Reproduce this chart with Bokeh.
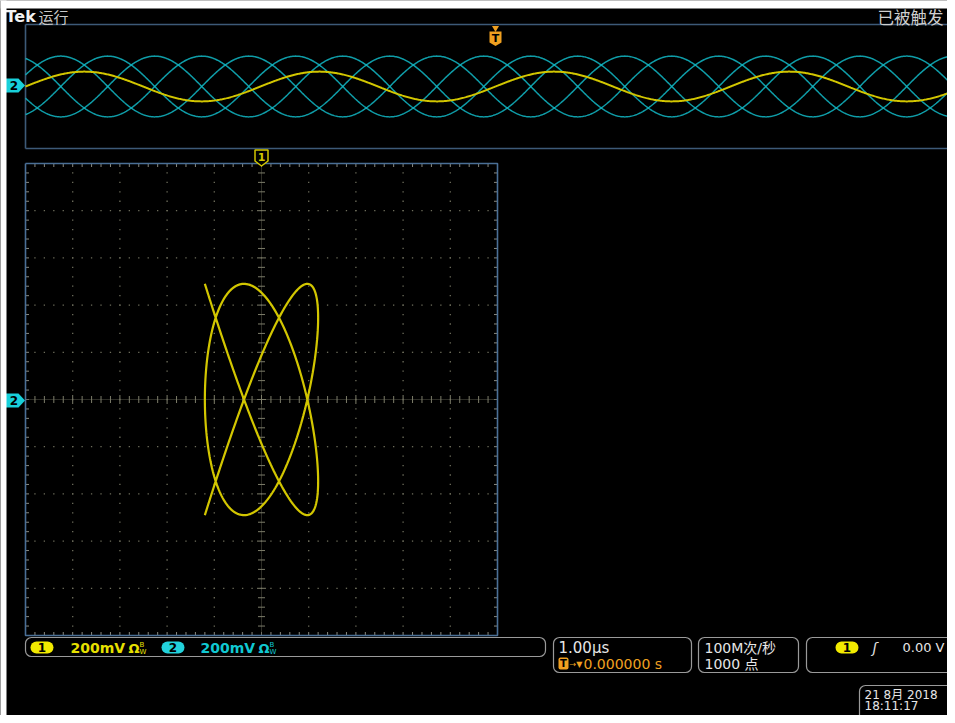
import numpy as np
from bokeh.plotting import figure
from bokeh.models import Range1d
from bokeh.core.properties import value
from bokeh.embed import file_html
from bokeh.resources import INLINE

record_us = [-5.0, 5.0]            # 1.00 us/div x 10 div, trigger in the centre
record_points = 1000               # "1000 点"
ch1_freq_mhz = 0.4                 # 4 cycles across the record
ch1_amp_v = 0.24
ch1_phase_deg = 0.0                # rising zero crossing at the trigger
ch2_freq_mhz = 0.5                 # 5 cycles across the record
ch2_amp_v = 0.49
ch2_phase_deg = 112.5              # cosine phase at the trigger
ch2_persist_deg = [0, 90, 180, 270]  # overlaid acquisitions in the YT window
volts_per_div = [0.2, 0.2]         # ch1, ch2
ch_labels = ["1", "2"]
ch_scale_text = ["200mV", "200mV"]
timebase_text = "1.00µs"
trig_pos_text = "0.000000 s"
rate_text = ["100M次/秒", "1000 点"]
trig_level_text = "0.00 V"
date_text = ["21 8月  2018", "18:11:17"]
header_text = ["Tek", "运行", "已被触发"]

# ---------------- screen layout (picture pixels) ----------------
PX0, PX1, PY0, PY1 = 0, 947, 0, 715
YT_L, YT_T, YT_B = 25, 24, 148
YT_TRIG_X = 495.0
YT_PX_PER_US = 94.0
YT_CY = 86.0
YT_PX_PER_DIV = 12.4
XY_L, XY_T, XY_DIV = 25.0, 163.0, 47.2
XY_R, XY_B = XY_L + 10 * XY_DIV, XY_T + 10 * XY_DIV
XY_CX, XY_CY = XY_L + 5 * XY_DIV, XY_T + 5 * XY_DIV

YELLOW = "#d2c600"
YELLOW_TXT = "#e6e000"
CYAN = "#12b9c6"
CYAN_TXT = "#10c8d2"
ORANGE = "#f0a020"
FRAME = "#4a6f96"
GRAT = "#6e6e5c"
WHITE = "#e6e6e6"
LATIN = "DejaVu Sans"
MIXED = "DejaVu Sans, Noto Sans CJK SC"
CJK = "Noto Sans CJK SC"

p = figure(width=PX1 - PX0, height=PY1 - PY0,
           x_range=Range1d(PX0, PX1), y_range=Range1d(-PY1, -PY0),
           output_backend="svg", toolbar_location=None,
           x_axis_location=None, y_axis_location=None,
           min_border=0, background_fill_color="#000000",
           border_fill_color="#000000", outline_line_color=None)
p.grid.visible = False

# scales of the two windows
yt_ppv = YT_PX_PER_DIV / volts_per_div[0]
xy_ppv_x = XY_DIV / volts_per_div[0]
xy_ppv_y = XY_DIV / volts_per_div[1]
p.extra_x_ranges = {
    "t": Range1d((PX0 - YT_TRIG_X) / YT_PX_PER_US, (PX1 - YT_TRIG_X) / YT_PX_PER_US),
    "vx": Range1d((PX0 - XY_CX) / xy_ppv_x, (PX1 - XY_CX) / xy_ppv_x),
}
p.extra_y_ranges = {
    "vt": Range1d((YT_CY - PY1) / yt_ppv, (YT_CY - PY0) / yt_ppv),
    "vy": Range1d((XY_CY - PY1) / xy_ppv_y, (XY_CY - PY0) / xy_ppv_y),
}


def Y(v):
    return -np.asarray(v, dtype=float)


def txt(x, y, s, color, size=14, font=LATIN, style="normal", align="left", baseline="middle"):
    p.text(x=[x], y=[-y], text=[s], text_color=color, text_font=value(font),
           text_font_size=f"{size}px", text_font_style=style,
           text_align=align, text_baseline=baseline)


# ---------------- signals ----------------
t = np.linspace(record_us[0], record_us[1], record_points)
ch1 = ch1_amp_v * np.sin(2 * np.pi * ch1_freq_mhz * t + np.radians(ch1_phase_deg))


def ch2(extra_deg=0.0):
    return ch2_amp_v * np.cos(2 * np.pi * ch2_freq_mhz * t + np.radians(ch2_phase_deg + extra_deg))


# ---------------- YT window ----------------
p.multi_line(xs=[[YT_L, PX1 + 20], [YT_L, PX1 + 20], [YT_L, YT_L]],
             ys=[list(Y([YT_T, YT_T])), list(Y([YT_B, YT_B])), list(Y([YT_T, YT_B]))],
             line_color="#3d5a78", line_width=1.6)
for d in ch2_persist_deg:
    p.line(t, ch2(d), x_range_name="t", y_range_name="vt",
           line_color=CYAN, line_width=1.5, line_alpha=0.85)
p.line(t, ch1, x_range_name="t", y_range_name="vt",
       line_color=YELLOW, line_width=2)

# ---------------- XY graticule ----------------
sub = XY_DIV / 5
dx, dy = [], []
for k in range(1, 10):
    if k == 5:
        continue
    for j in range(1, 50):
        dx.append(XY_L + k * XY_DIV); dy.append(XY_T + j * sub)
        dx.append(XY_L + j * sub); dy.append(XY_T + k * XY_DIV)
p.rect(x=dx, y=Y(dy), width=1.3, height=1.3, width_units="screen",
       height_units="screen", fill_color=GRAT, line_color=None)

# frame ticks
tx0, tx1, ty0, ty1 = [], [], [], []
for j in range(1, 50):
    a = XY_L + j * sub
    b = XY_T + j * sub
    tx0 += [a, a]; tx1 += [a, a]; ty0 += [XY_T, XY_B]; ty1 += [XY_T + 3.5, XY_B - 3.5]
    tx0 += [XY_L, XY_R]; tx1 += [XY_L + 3.5, XY_R - 3.5]; ty0 += [b, b]; ty1 += [b, b]
p.segment(x0=tx0, y0=Y(ty0), x1=tx1, y1=Y(ty1), line_color="#8a8a80", line_width=1)

# centre crosshair
p.segment(x0=[XY_L, XY_CX], y0=Y([XY_CY, XY_T]), x1=[XY_R, XY_CX], y1=Y([XY_CY, XY_B]),
          line_color="#5a5a4c", line_width=1, line_dash="1 1")
cx0, cx1, cy0, cy1 = [], [], [], []
for j in range(1, 50):
    h = 4.5 if j % 5 == 0 else 3.5
    a = XY_L + j * sub
    b = XY_T + j * sub
    cx0 += [a, XY_CX - h]; cx1 += [a, XY_CX + h]; cy0 += [XY_CY - h, b]; cy1 += [XY_CY + h, b]
p.segment(x0=cx0, y0=Y(cy0), x1=cx1, y1=Y(cy1), line_color="#7d7d6a", line_width=1)

# frame
p.multi_line(xs=[[XY_L, XY_R, XY_R, XY_L, XY_L]],
             ys=[list(Y([XY_T, XY_T, XY_B, XY_B, XY_T]))],
             line_color=FRAME, line_width=1.6)

# Lissajous (ch1 on X, ch2 on Y)
p.line(ch1, ch2(), x_range_name="vx", y_range_name="vy",
       line_color=YELLOW, line_width=2.2)

# ---------------- markers ----------------
# trigger position marker
p.scatter(x=[YT_TRIG_X], y=Y([27.5]), marker="triangle", angle=np.pi, size=7,
          fill_color=ORANGE, line_color=None)
p.patches(xs=[[489, 501, 501, 495, 489]], ys=[list(Y([31, 31, 42, 45.5, 42]))],
          fill_color=ORANGE, line_color=None)
txt(YT_TRIG_X, 37.5, "T", "#000000", size=11, style="bold", align="center")

# ch1 marker above XY window
p.patches(xs=[[254.5, 267.5, 267.5, 261, 254.5]], ys=[list(Y([149.5, 149.5, 160.5, 165.5, 160.5]))],
          fill_color="#000000", line_color=YELLOW, line_width=1.5)
txt(XY_CX, 156.5, ch_labels[0], YELLOW, size=11, style="bold", align="center")

# ch2 markers on the left
for cy in [YT_CY - 1, XY_CY + 1]:
    p.patches(xs=[[5, 18, 24.5, 18, 5]], ys=[list(Y([cy - 7, cy - 7, cy, cy + 7, cy + 7]))],
              fill_color="#18d0da", line_color=None)
    txt(13.5, cy, ch_labels[1], "#000000", size=12, style="bold", align="center")

# ---------------- header ----------------
txt(5, 16, header_text[0], "#f2f2f2", size=16, style="bold")
txt(38, 16, header_text[1], "#c8c8c8", size=15, font=CJK)
txt(943, 16.5, header_text[2], "#cfcfcf", size=16.5, font=CJK, align="right")

# white page strip along the top and left edge of the photographed screen
p.quad(left=[PX0, PX0], right=[PX1 + 5, 6], top=Y([PY0 - 5, PY0 - 5]), bottom=Y([8, PY1 + 5]),
       fill_color="#ffffff", line_color=None)

# ---------------- status bar ----------------
BOX = "#9a9a9a"
p.quad(left=[25, 553, 698, 806, 859], right=[545, 691, 798, 975, 975],
       top=Y([637, 637, 637, 637, 685]), bottom=Y([656, 672, 672, 672, 740]),
       fill_color=None, line_color=BOX, line_width=1.2, border_radius=6)
# channel pills
p.quad(left=[30, 835], right=[53, 858], top=Y([641, 641]), bottom=Y([653, 653]),
       fill_color="#f2ea00", line_color=None, border_radius=6)
p.quad(left=[161], right=[184], top=Y([641]), bottom=Y([653]),
       fill_color="#22d2dc", line_color=None, border_radius=6)
txt(41.5, 647, ch_labels[0], "#000000", size=12, style="bold", align="center")
txt(172.5, 647, ch_labels[1], "#000000", size=12, style="bold", align="center")
txt(846.5, 647, ch_labels[0], "#000000", size=12, style="bold", align="center")

for x0, col, s in [(70, YELLOW_TXT, ch_scale_text[0]), (200, CYAN_TXT, ch_scale_text[1])]:
    txt(x0, 647, s, col, size=14, style="bold")
    txt(x0 + 58, 647.5, "Ω", col, size=13, style="bold")
    txt(x0 + 69, 644, "B", col, size=7)
    txt(x0 + 69, 651, "W", col, size=7)

txt(558, 647, timebase_text, WHITE, size=15)
p.quad(left=[558], right=[568], top=Y([657]), bottom=Y([669]),
       fill_color=ORANGE, line_color=None, border_radius=2)
txt(563, 663, "T", "#000000", size=10, style="bold", align="center")
txt(569, 663.5, "→▼", ORANGE, size=8)
txt(583, 663, trig_pos_text, ORANGE, size=14)

txt(704, 647, rate_text[0], WHITE, size=14, font=MIXED)
txt(704, 663, rate_text[1], WHITE, size=14, font=MIXED)

txt(872, 647, "ʃ", WHITE, size=14, style="italic")
txt(944, 647, trig_level_text, WHITE, size=13, align="right")

txt(864, 694.5, date_text[0], WHITE, size=12, font=MIXED)
txt(864, 705.5, date_text[1], WHITE, size=12)

open("out.html", "w").write(file_html(p, INLINE))
